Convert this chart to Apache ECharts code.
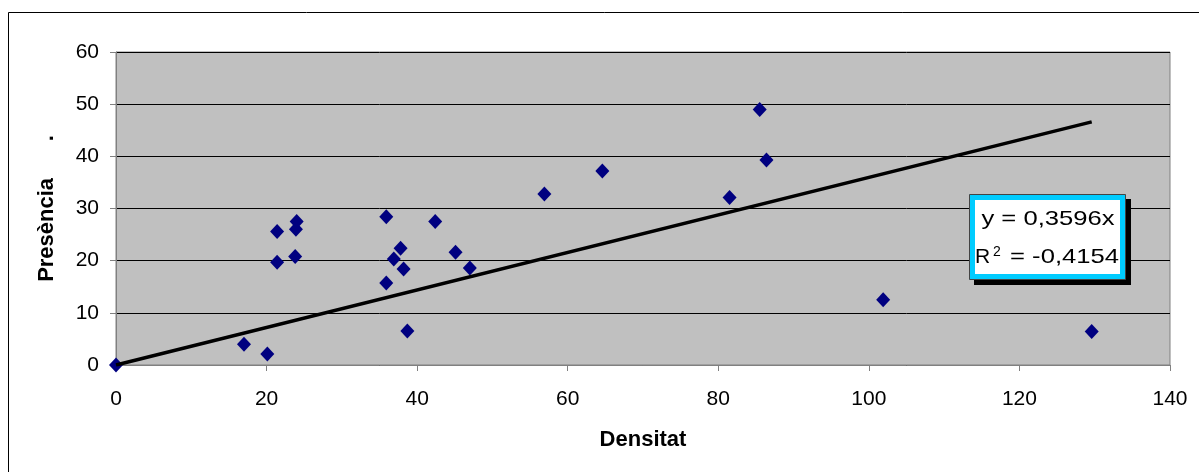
<!DOCTYPE html>
<html>
<head>
<meta charset="utf-8">
<script src="https://cdn.jsdelivr.net/npm/echarts@6/dist/echarts.min.js"></script>
<style>
  html, body { margin: 0; padding: 0; background: #fff; }
  #chart { width: 1199px; height: 472px; }
</style>
</head>
<body>
<div id="chart"></div>
<script>
// Densitat (x) i Presència (y) de cada punt
var densitat = [0, 17.0, 20.1, 21.4, 21.4, 24.0, 23.9, 23.8, 35.9, 35.9, 37.8, 36.9, 38.2, 38.7,
  42.4, 45.1, 47.0, 56.9, 64.6, 81.5, 85.5, 86.4, 101.9, 129.6]
var presencia = [0, 4.0, 2.1, 25.6, 19.7, 27.5, 26.0, 20.8, 28.4, 15.7, 22.4, 20.3, 18.4, 6.5,
  27.5, 21.6, 18.6, 32.8, 37.2, 32.1, 49.0, 39.3, 12.5, 6.4]
// línia de tendència y = 0,3596x
var pendent = 0.3596
var tendenciaX = [0, 129.6]
var xTicks = { min: 0, max: 140, interval: 20 }
var yTicks = { min: 0, max: 60, interval: 10 }

var font = '"Liberation Sans", Arial, sans-serif'
var chart = echarts.init(document.getElementById('chart'))

var punts = densitat.map(function (d, i) { return [d, presencia[i]] })
var tendencia = tendenciaX.map(function (x) { return [x, pendent * x] })

var option = {
  animation: false,
  backgroundColor: '#fff',
  textStyle: { fontFamily: font },
  grid: {
    left: 116,
    top: 52,
    width: 1054,
    height: 313,
    show: true,
    backgroundColor: '#c0c0c0',
    borderColor: '#808080',
    borderWidth: 1
  },
  xAxis: {
    type: 'value',
    min: xTicks.min,
    max: xTicks.max,
    interval: xTicks.interval,
    name: 'Densitat',
    nameLocation: 'middle',
    nameGap: 64,
    nameTextStyle: { fontFamily: font, fontSize: 22, fontWeight: 'bold', color: '#000' },
    axisLine: { lineStyle: { color: '#808080', width: 1 } },
    axisTick: { show: true, inside: false, length: 6, lineStyle: { color: '#808080' } },
    axisLabel: { fontFamily: font, fontSize: 21, color: '#000', margin: 24 },
    splitLine: { show: false }
  },
  yAxis: {
    type: 'value',
    min: yTicks.min,
    max: yTicks.max,
    interval: yTicks.interval,
    name: 'Presència      .',
    nameLocation: 'middle',
    nameGap: 58,
    nameTextStyle: { fontFamily: font, fontSize: 22, fontWeight: 'bold', color: '#000' },
    axisLine: { show: true, lineStyle: { color: '#808080', width: 1 } },
    axisTick: { show: true, inside: false, length: 6, lineStyle: { color: '#808080' } },
    axisLabel: { fontFamily: font, fontSize: 21, color: '#000', margin: 17 },
    splitLine: { show: true, lineStyle: { color: '#000', width: 1 } }
  },
  series: [
    {
      type: 'scatter',
      symbol: 'diamond',
      symbolSize: [14, 15],
      itemStyle: { color: '#000080', opacity: 1 },
      data: punts,
      z: 2
    },
    {
      type: 'line',
      showSymbol: false,
      symbol: 'none',
      lineStyle: { color: '#000', width: 3.5 },
      data: tendencia,
      z: 3
    }
  ],
  graphic: [
    // marc exterior del gràfic
    {
      type: 'rect',
      shape: { x: 8.5, y: 12.5, width: 1300, height: 600 },
      style: { fill: 'none', stroke: '#000', lineWidth: 1 },
      silent: true,
      z: 0
    },
    // ombra de l'etiqueta
    { type: 'rect', z: 100, shape: { x: 974, y: 199, width: 157, height: 86 }, style: { fill: '#000' } },
    // vora cian
    { type: 'rect', z: 101, shape: { x: 969.5, y: 194.5, width: 156, height: 85 }, style: { fill: '#00ccff', stroke: '#444', lineWidth: 1 } },
    // interior blanc
    { type: 'rect', z: 102, shape: { x: 975, y: 200, width: 145, height: 74 }, style: { fill: '#fff' } },
    {
      type: 'text', z: 103, x: 1048, y: 230, scaleX: 1.22,
      style: { text: 'y = 0,3596x', font: '21px ' + font, fill: '#000', align: 'center', verticalAlign: 'bottom' }
    },
    {
      type: 'text', z: 103, x: 975, y: 267.5,
      style: { text: 'R', font: '21px ' + font, fill: '#000', align: 'left', verticalAlign: 'bottom' }
    },
    {
      type: 'text', z: 103, x: 993, y: 259,
      style: { text: '2', font: '14px ' + font, fill: '#000', align: 'left', verticalAlign: 'bottom' }
    },
    {
      type: 'text', z: 103, x: 1119, y: 267.5, scaleX: 1.22,
      style: { text: '= -0,4154', font: '21px ' + font, fill: '#000', align: 'right', verticalAlign: 'bottom' }
    }
  ]
}
chart.setOption(option)
</script>
</body>
</html>
